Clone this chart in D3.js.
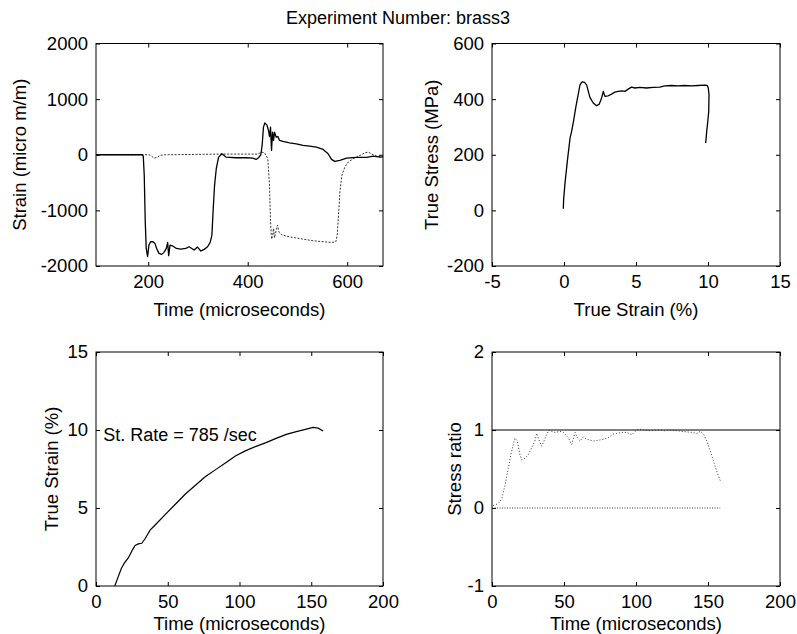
<!DOCTYPE html>
<html>
<head>
<meta charset="utf-8">
<script src="https://cdn.jsdelivr.net/npm/d3@7"></script>
<style>
  html, body { margin: 0; padding: 0; background: #fff; }
  svg { display: block; }
  text { font-family: "Liberation Sans", Arial, Helvetica, sans-serif; fill: #000; }
</style>
</head>
<body>
<svg id="chart" width="797" height="634"></svg>
<script>
// ---------- DATA ----------
const chartTitle = "Experiment Number: brass3";

// Panel 1: strain gauge signals vs time (microseconds)
const incidentGauge = [
  [95,0],[187.9,0],[190,-24],[192,-370],[194,-1206],[196,-1684],[198.7,-1833],[201.4,-1624],
  [204.8,-1564],[209.5,-1564],[213.5,-1594],[216.9,-1684],[221.6,-1773],[227,-1791],[231.7,-1755],
  [236.4,-1684],[239.1,-1576],[241.1,-1815],[243.8,-1624],[248.5,-1636],[256.6,-1684],[265.4,-1696],
  [275.5,-1684],[282.2,-1654],[292.3,-1713],[299,-1660],[305.8,-1731],[312.5,-1701],[319.3,-1654],
  [324.6,-1576],[328,-1445],[330.7,-967],[333.4,-549],[336.8,-251],[341.5,-42],[348.2,18],
  [356.3,-42],[376.5,-54],[396.7,-54],[410.2,-60],[416.9,-84],[422.3,-48],[426.3,0],[429,167],
  [431.7,496],[434.4,573],[438.5,537],[441.8,436],[443.8,328],[445.9,496],[447.9,78],[449.9,406],
  [451.9,257],[453.9,406],[457.3,316],[460.7,328],[464,257],[470.8,239],[484.2,215],[497.7,197],
  [511.2,167],[524.6,155],[538.1,137],[551.6,96],[561.7,18],[568.4,-84],[575.1,-119],[585.3,-101],
  [598.7,-60],[618.9,-48],[639.1,-48],[652.6,-24],[666,-42],[672,-40]
];
const transmittedGauge = [
  [95,0],[201.4,0],[206.8,-24],[211.5,-60],[218.2,-48],[223,-12],[235.1,0],[349.6,12],[420.3,12],
  [427,48],[433.7,36],[440.5,-72],[443.8,-549],[445.9,-1206],[447.9,-1516],[449.9,-1475],
  [451.9,-1325],[453.9,-1493],[457.3,-1355],[460,-1266],[462.7,-1385],[467.4,-1433],[477.5,-1463],
  [491,-1487],[511.2,-1516],[531.4,-1546],[551.6,-1564],[568.4,-1576],[577.2,-1564],[579.9,-1445],
  [582.6,-1087],[585.3,-669],[589.3,-370],[595.3,-221],[602.1,-131],[612.2,-72],[625.7,-12],
  [635.8,36],[642.5,48],[649.2,12],[659.3,-24],[666,-30],[672,-30]
];
const p1XTicks = [200, 400, 600];
const p1YTicks = [2000, 1000, 0, -1000, -2000];

// Panel 2: true stress (MPa) vs true strain (%)
const stressStrain = [
  [-0.05,6],[-0.02,44],[0.07,98],[0.23,176],[0.42,260],[0.53,284],[0.65,317],[0.83,374],[0.99,418],
  [1.11,451],[1.25,462],[1.41,461],[1.57,451],[1.69,428],[1.80,406],[2.03,386],[2.26,376],[2.45,382],
  [2.61,404],[2.73,428],[2.84,410],[3.07,412],[3.30,418],[3.53,425],[3.76,428],[4.0,430],[4.23,428],
  [4.46,436],[4.69,443],[4.92,440],[5.27,442],[5.73,440],[6.19,442],[6.65,443],[7.0,448],[7.46,449],
  [7.92,448],[8.38,449],[8.85,448],[9.31,449],[9.77,450],[9.95,449],[10.02,440],[10.07,416],
  [10.05,356],[9.98,317],[9.91,284],[9.84,242]
];
const p2XTicks = [-5, 0, 5, 10, 15];
const p2YTicks = [600, 400, 200, 0, -200];

// Panel 3: true strain (%) vs time (microseconds)
const strainHistory = [
  [13.1,0],[15.5,0.6],[17.8,1.15],[20,1.5],[22.5,1.8],[25,2.25],[27.2,2.6],[29.5,2.7],[31.9,2.74],
  [34.2,3.03],[37.7,3.58],[41.2,3.91],[48.2,4.58],[55.3,5.24],[62.3,5.9],[69.3,6.46],[76.3,7.02],
  [83.4,7.46],[90.4,7.9],[97.4,8.35],[104.4,8.68],[111.5,8.95],[118.5,9.19],[125.5,9.46],[132.6,9.72],
  [139.6,9.9],[146.6,10.06],[151.3,10.17],[154.8,10.12],[158.3,9.94]
];
const strainRateNote = "St. Rate = 785 /sec";
const p3XTicks = [0, 50, 100, 150, 200];
const p3YTicks = [15, 10, 5, 0];

// Panel 4: stress ratio vs time (microseconds)
const stressRatio = [
  [0.86,0.03],[4.3,0.057],[6.65,0.11],[8.97,0.286],[11.3,0.507],[13.6,0.727],[15.9,0.894],[17.6,0.859],
  [19.4,0.683],[20.6,0.617],[22.9,0.639],[25.2,0.683],[27.5,0.771],[29.8,0.859],[31.0,0.956],[32.9,0.859],
  [34.5,0.793],[36.1,0.859],[38.0,0.947],[39.8,1.0],[41.4,0.982],[43.75,0.969],[47.2,0.982],[49.5,0.969],
  [53.0,0.903],[55.3,0.815],[57.7,0.969],[59.3,0.903],[61.1,0.859],[63.5,0.912],[65.8,0.881],[70.4,0.859],
  [75.1,0.872],[77.4,0.881],[80.85,0.903],[84.3,0.947],[86.6,0.956],[90.1,0.969],[93.6,0.969],[97.1,0.938],
  [99.4,0.982],[101.7,1.013],[105.2,1.0],[110,0.99],[115,1.0],[120,0.99],[125,1.0],[131.9,0.982],
  [138.8,0.969],[142.3,0.956],[144.6,0.982],[146.9,0.947],[149.2,0.859],[151.6,0.727],[153.9,0.595],
  [156.2,0.463],[158.5,0.352]
];
const ratioZeroLine = [[0,0],[158.5,0]];
const ratioUnityLine = [[0,1],[200,1]];
const p4XTicks = [0, 50, 100, 150, 200];
const p4YTicks = [2, 1, 0, -1];

// ---------- LAYOUT ----------
const svg = d3.select("#chart");
const FONT = 18.5;
const panels = [
  {x0:96, x1:383, y0:43.5, y1:266, xd:[95,672], yd:[-2000,2000], xt:p1XTicks, yt:p1YTicks,
   xl:"Time (microseconds)", yl:"Strain (micro m/m)", ylx:20, xly:316},
  {x0:492, x1:780, y0:43.5, y1:266, xd:[-5,15], yd:[-200,600], xt:p2XTicks, yt:p2YTicks,
   xl:"True Strain (%)", yl:"True Stress (MPa)", ylx:432, xly:316},
  {x0:96, x1:383, y0:352, y1:586, xd:[0,200], yd:[0,15], xt:p3XTicks, yt:p3YTicks,
   xl:"Time (microseconds)", yl:"True Strain (%)", ylx:52, xly:630},
  {x0:492, x1:780, y0:352, y1:586, xd:[0,200], yd:[-1,2], xt:p4XTicks, yt:p4YTicks,
   xl:"Time (microseconds)", yl:"Stress ratio", ylx:455, xly:630}
];

svg.append("text").attr("x", 398).attr("y", 24).attr("text-anchor", "middle")
  .style("font-size", "18px").text(chartTitle);

panels.forEach(p => {
  p.x = d3.scaleLinear().domain(p.xd).range([p.x0, p.x1]);
  p.y = d3.scaleLinear().domain(p.yd).range([p.y1, p.y0]);
  const g = svg.append("g");
  const fmt = d => String(d);
  const TK = 4;
  const ab = d3.axisBottom(p.x).tickValues(p.xt).tickSizeInner(-TK).tickSizeOuter(0).tickPadding(9).tickFormat(fmt);
  const at = d3.axisTop(p.x).tickValues(p.xt).tickSizeInner(-TK).tickSizeOuter(0).tickFormat("");
  const al = d3.axisLeft(p.y).tickValues(p.yt).tickSizeInner(-TK).tickSizeOuter(0).tickPadding(8).tickFormat(fmt);
  const ar = d3.axisRight(p.y).tickValues(p.yt).tickSizeInner(-TK).tickSizeOuter(0).tickFormat("");
  const gb = g.append("g").attr("transform", `translate(0,${p.y1})`).call(ab);
  const gt = g.append("g").attr("transform", `translate(0,${p.y0})`).call(at);
  const gl = g.append("g").attr("transform", `translate(${p.x0},0)`).call(al);
  const gr = g.append("g").attr("transform", `translate(${p.x1},0)`).call(ar);
  [gb, gt, gl, gr].forEach(a => {
    a.select(".domain").remove();
    a.selectAll("line").attr("stroke", "#000");
    a.selectAll("text").style("font-size", FONT + "px")
      .style("font-family", '"Liberation Sans", Arial, sans-serif').attr("fill", "#000");
  });
  g.append("rect").attr("x", p.x0).attr("y", p.y0).attr("width", p.x1 - p.x0).attr("height", p.y1 - p.y0)
    .attr("fill", "none").attr("stroke", "#000").attr("stroke-width", 1);
  g.append("text").attr("x", (p.x0 + p.x1) / 2).attr("y", p.xly).attr("text-anchor", "middle")
    .style("font-size", FONT + "px").text(p.xl);
  g.append("text").attr("transform", `translate(${p.ylx},${(p.y0 + p.y1) / 2}) rotate(-90)`)
    .attr("text-anchor", "middle").attr("dy", "0.35em").style("font-size", FONT + "px").text(p.yl);
  p.line = d3.line().x(d => p.x(d[0])).y(d => p.y(d[1]));
  p.g = g;
});

function draw(p, data, opts) {
  p.g.append("path").datum(data).attr("d", p.line).attr("fill", "none")
    .attr("stroke", opts.color || "#000").attr("stroke-width", opts.width || 1.2)
    .attr("stroke-dasharray", opts.dash || null).attr("stroke-linejoin", "round");
}

draw(panels[0], transmittedGauge, {color:"#333", width:1, dash:"2,1.5"});
draw(panels[0], incidentGauge, {color:"#000", width:1.3});
draw(panels[1], stressStrain, {color:"#000", width:1.3});
draw(panels[2], strainHistory, {color:"#000", width:1.2});
draw(panels[3], ratioUnityLine, {color:"#000", width:1.2});
draw(panels[3], ratioZeroLine, {color:"#333", width:1, dash:"1,1.5"});
draw(panels[3], stressRatio, {color:"#333", width:1, dash:"1,2"});

panels[2].g.append("text").attr("x", panels[2].x(5)).attr("y", panels[2].y(9.7)).attr("dy", "0.35em")
  .style("font-size", "18px").text(strainRateNote);
</script>
</body>
</html>
